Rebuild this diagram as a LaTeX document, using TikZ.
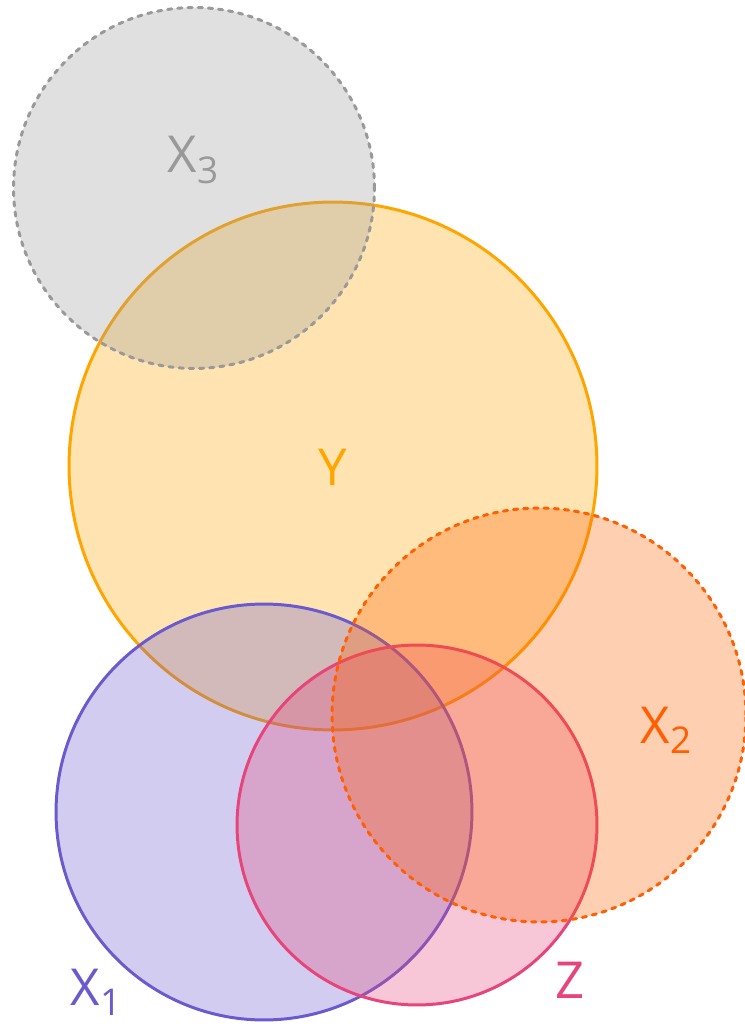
\documentclass[tikz,border=0pt]{standalone}
\usepackage{fontspec}
\setmainfont{Open Sans}
\usepackage{tikz}

\definecolor{grayset}{HTML}{999999}
\definecolor{orangeset}{HTML}{FFA500}
\definecolor{redset}{HTML}{FF5F00}
\definecolor{purpleset}{HTML}{6A5ACD}
\definecolor{pinkset}{HTML}{E6457A}

\newcommand{\lowsub}[1]{\raisebox{-6.2pt}{\fontsize{21}{21}\selectfont #1}}

\tikzset{
  setfill/.style={fill=#1, fill opacity=0.3},
  setline/.style={draw=#1, line width=1.7pt},
  dashline/.style={draw=#1, line width=1.7pt, line cap=round, dash pattern=on 2.4pt off 3.4pt},
  setlabel/.style={text=#1, anchor=base, inner sep=0pt, font=\fontsize{29}{29}\selectfont}
}

\begin{document}
\begin{tikzpicture}[x=0.02cm, y=-0.02cm]
\useasboundingbox (0,0) rectangle (744,1024);
% set Y
\coordinate (cY) at (333,466);
\fill[setfill=orangeset] (cY) circle (5.28cm);
\draw[setline=orangeset] (cY) circle (5.28cm);
% set X3
\coordinate (cX3) at (194,188);
\fill[setfill=grayset] (cX3) circle (3.61cm);
\draw[dashline=grayset] (cX3) circle (3.61cm);
% set X1
\coordinate (cX1) at (264,812);
\fill[setfill=purpleset] (cX1) circle (4.16cm);
\draw[setline=purpleset] (cX1) circle (4.16cm);
% set Z
\coordinate (cZ) at (417,825);
\fill[setfill=pinkset] (cZ) circle (3.6cm);
\draw[setline=pinkset] (cZ) circle (3.6cm);
% set X2
\coordinate (cX2) at (539,715);
\fill[setfill=redset] (cX2) circle (4.14cm);
\draw[dashline=redset] (cX2) circle (4.14cm);
% labels
\node[setlabel=grayset] (lX3) at (193,173) {X\lowsub{3}};
\node[setlabel=orangeset] (lY) at (333,485) {Y};
\node[setlabel=redset] (lX2) at (666,743) {X\lowsub{2}};
\node[setlabel=purpleset] (lX1) at (96,1005) {X\lowsub{1}};
\node[setlabel=pinkset] (lZ) at (570,998) {Z};
\end{tikzpicture}
\end{document}
